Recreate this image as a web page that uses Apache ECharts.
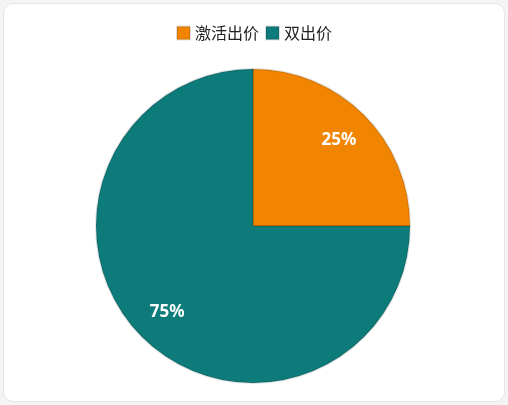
<!DOCTYPE html><html><head><meta charset="utf-8"><script src="https://cdn.jsdelivr.net/npm/echarts@6/dist/echarts.min.js"></script>
<style>html,body{margin:0;padding:0;background:#f4f4f4}#c{position:absolute;left:3px;top:3px;width:500px;height:397px;background:#fff;border:1px solid #e6e6e6;border-radius:10px}</style></head><body><div id="c"></div><script>
const categories=['激活出价','双出价'];
const values=[25,75];
const colors=['#F28500','#0E7B7B'];
const ch=echarts.init(document.getElementById('c'));
ch.setOption({
legend:{top:16,left:'center',itemWidth:13,itemHeight:13,itemGap:6,icon:'rect',textStyle:{fontSize:16,color:'#222',fontFamily:'Noto Sans CJK SC'},data:categories},
series:[{type:'pie',center:[249,222],radius:157,startAngle:90,clockwise:true,
label:{show:false},labelLine:{show:false},
itemStyle:{borderColor:'rgba(0,0,0,0.12)',borderWidth:2},
data:categories.map((n,i)=>({name:n,value:values[i],itemStyle:{color:colors[i]}}))},
{type:'pie',center:[249,222],radius:[80,157],startAngle:90,clockwise:true,silent:true,
label:{position:'inside',formatter:'{d}%',color:'#fff',fontSize:17,fontWeight:'bold',fontFamily:'Noto Sans'},
labelLine:{show:false},itemStyle:{color:'rgba(0,0,0,0)'},
data:categories.map((n,i)=>({name:n,value:values[i]}))}]
});
</script></body></html>
